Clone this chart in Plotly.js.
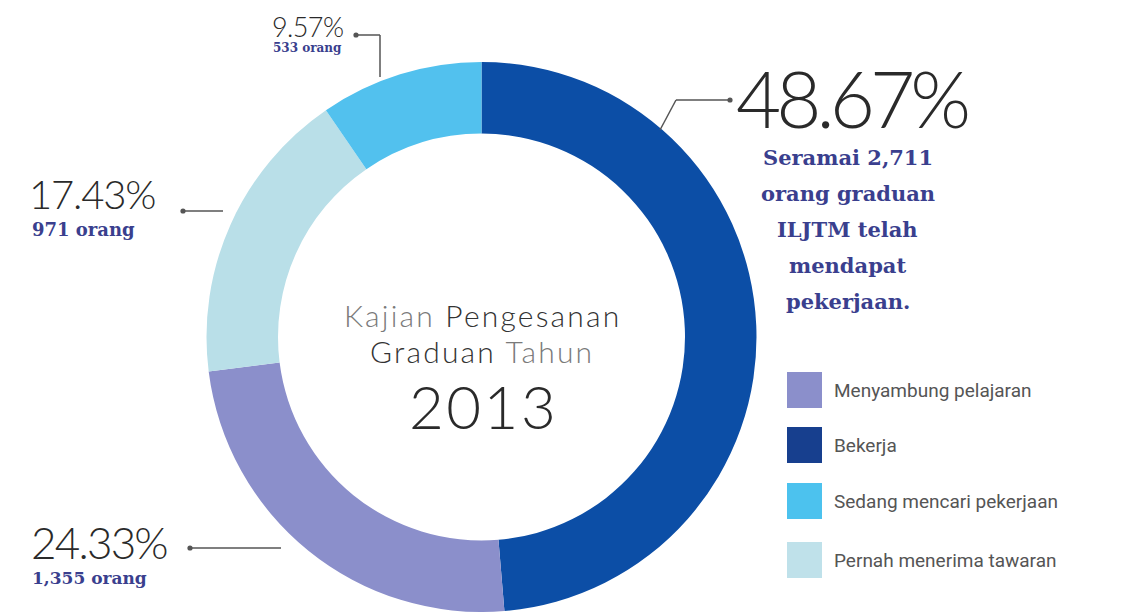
<!DOCTYPE html>
<html>
<head>
<meta charset="utf-8">
<script src="https://cdn.plot.ly/plotly-3.0.1.min.js"></script>
<style>
  html, body { margin: 0; padding: 0; background: #ffffff; }
  #chart { width: 1122px; height: 612px; }
</style>
</head>
<body>
<div id="chart"></div>
<script>
// ---- Data (slice order, clockwise from 12 o'clock) ----
const slices = ['Bekerja', 'Menyambung pelajaran', 'Pernah menerima tawaran', 'Sedang mencari pekerjaan'];
const counts = [2711, 1355, 971, 533];
const percentLabels = ['48.67%', '24.33%', '17.43%', '9.57%'];
const countLabels = ['Seramai 2,711', '1,355 orang', '971 orang', '533 orang'];
const bekerjaNote = ['Seramai 2,711', 'orang graduan', 'ILJTM telah', 'mendapat', 'pekerjaan.'];
const sliceColors = ['#0c4ea6', '#8b8fcb', '#b9dfe8', '#52c1ee'];
const legendOrder = ['Menyambung pelajaran', 'Bekerja', 'Sedang mencari pekerjaan', 'Pernah menerima tawaran'];
const legendSwatch = ['#8b8fcb', '#173f8e', '#4cc2ee', '#bfe1ea'];
const centreTitle = ['Kajian', 'Pengesanan', 'Graduan', 'Tahun', '2013'];

// ---- helpers: pixel -> paper ----
const W = 1122, H = 612;
const X = px => px / W;
const Y = py => 1 - py / H;

const THIN = 'Lato, "Open Sans", sans-serif';
const SLAB = '"DejaVu Serif", serif';
const INK = '#2a2a2a';
const NAVY = '#3a3f8e';

const annotations = [];
const shapes = [];

function ann(text, px, py, size, opts) {
  annotations.push(Object.assign({
    text: text, x: X(px), y: Y(py), xref: 'paper', yref: 'paper',
    showarrow: false, xanchor: 'left', yanchor: 'middle',
    font: {family: THIN, size: size, color: INK, weight: 300}
  }, opts || {}));
}
function spaced(t, ls) {
  return '<span style="letter-spacing:' + ls + 'px">' + t + '</span>';
}
function seg(x0, y0, x1, y1) {
  shapes.push({type: 'line', xref: 'paper', yref: 'paper',
    x0: X(x0), y0: Y(y0), x1: X(x1), y1: Y(y1),
    line: {color: '#555555', width: 1.5}});
}
function dot(px, py) {
  const r = 2.6;
  shapes.push({type: 'circle', xref: 'paper', yref: 'paper',
    x0: X(px - r), x1: X(px + r), y0: Y(py + r), y1: Y(py - r),
    fillcolor: '#555555', line: {width: 0}});
}

// Bekerja (48.67%)
ann(spaced(percentLabels[0], -5), 734, 98, 78);
bekerjaNote.forEach((t, i) => {
  ann('<b>' + t + '</b>', 848, [157, 193, 229, 265, 301][i], 21,
      {xanchor: 'center', font: {family: SLAB, size: 21, color: NAVY}});
});
dot(730, 100); seg(730, 100, 676, 100); seg(676, 100, 660, 130);

// Menyambung pelajaran (24.33%)
ann(spaced(percentLabels[1], -1.8), 29, 542, 44);
ann('<b>' + countLabels[1] + '</b>', 30, 578, 17, {font: {family: SLAB, size: 17, color: NAVY}});
dot(190, 548); seg(190, 548, 281, 548);

// Pernah menerima tawaran (17.43%)
ann(spaced(percentLabels[2], -1.2), 27, 194, 40);
ann('<b>' + countLabels[2] + '</b>', 30, 229, 18, {font: {family: SLAB, size: 18, color: NAVY}});
dot(183, 211); seg(183, 211, 223, 211);

// Sedang mencari pekerjaan (9.57%)
ann(spaced(percentLabels[3], -0.6), 307, 27, 27, {xanchor: 'center'});
ann('<b>' + countLabels[3] + '</b>', 307, 48, 12, {xanchor: 'center', font: {family: SLAB, size: 12, color: NAVY}});
dot(356, 35); seg(356, 35, 380, 35); seg(380, 35, 380, 77);

// Centre title
const grey = t => '<span style="color:#7a7a7a">' + t + '</span>';
const centreFont = s => ({family: THIN, size: s, color: '#333333', weight: 300});
ann(spaced(grey(centreTitle[0]) + ' ' + centreTitle[1], 2.2), 482, 315, 30,
    {xanchor: 'center', font: centreFont(30)});
ann(spaced(centreTitle[2] + ' ' + grey(centreTitle[3]), 2.2), 482, 351, 30,
    {xanchor: 'center', font: centreFont(30)});
ann(spaced(centreTitle[4], 2.5), 483, 406, 60,
    {xanchor: 'center', font: {family: THIN, size: 60, color: INK, weight: 300}});

// Custom legend
const legendRows = [390, 445, 501, 560];
legendOrder.forEach((name, i) => {
  const cy = legendRows[i];
  shapes.push({type: 'rect', xref: 'paper', yref: 'paper',
    x0: X(787), x1: X(822), y0: Y(cy + 18), y1: Y(cy - 18),
    fillcolor: legendSwatch[i], line: {width: 0}});
  ann(name, 832, cy, 19, {font: {family: 'Roboto, sans-serif', size: 19, color: '#555555'}});
});

const trace = {
  type: 'pie',
  labels: slices,
  values: counts,
  sort: false,
  direction: 'clockwise',
  rotation: 0,
  hole: 0.74,
  textinfo: 'none',
  hoverinfo: 'label+percent',
  marker: {colors: sliceColors, line: {width: 0}},
  domain: {x: [X(481.5 - 275), X(481.5 + 275)], y: [0, 550 / H]},
  showlegend: false
};

const layout = {
  width: W, height: H,
  margin: {l: 0, r: 0, t: 0, b: 0},
  paper_bgcolor: '#ffffff',
  plot_bgcolor: '#ffffff',
  showlegend: false,
  annotations: annotations,
  shapes: shapes
};

Plotly.newPlot('chart', [trace], layout, {displayModeBar: false, responsive: false});
</script>
</body>
</html>
